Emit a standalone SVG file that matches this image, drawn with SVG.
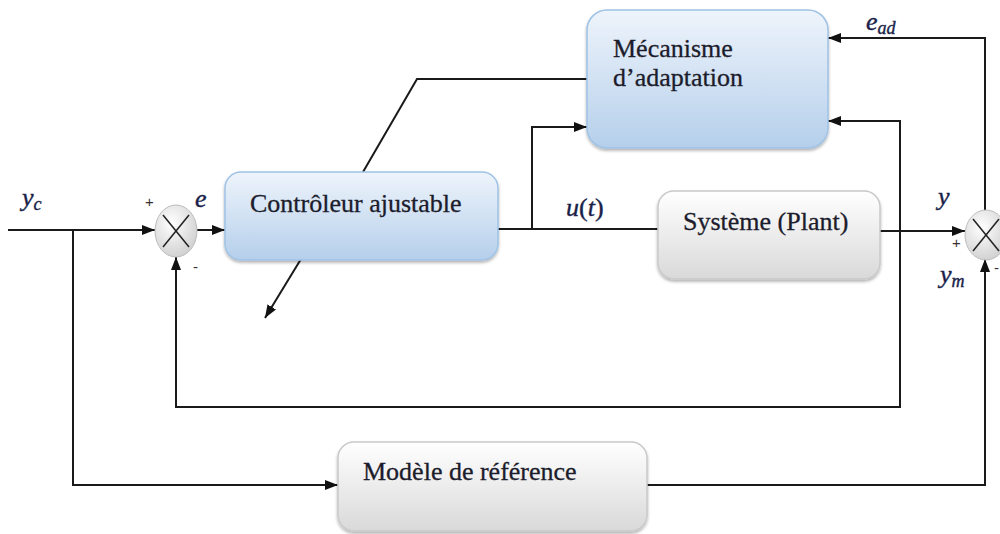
<svg xmlns="http://www.w3.org/2000/svg" width="1000" height="534" viewBox="0 0 1000 534">
<defs>
  <linearGradient id="gBlue" x1="0" y1="0" x2="0" y2="1">
    <stop offset="0" stop-color="#eef4fb"/>
    <stop offset="1" stop-color="#b5cfeb"/>
  </linearGradient>
  <linearGradient id="gGray" x1="0" y1="0" x2="0" y2="1">
    <stop offset="0" stop-color="#ffffff"/>
    <stop offset="1" stop-color="#d9d9d9"/>
  </linearGradient>
  <radialGradient id="gSum" cx="0.4" cy="0.35" r="0.7">
    <stop offset="0" stop-color="#ffffff"/>
    <stop offset="1" stop-color="#cfcfcf"/>
  </radialGradient>
  <filter id="shadow" x="-10%" y="-10%" width="120%" height="130%">
    <feDropShadow dx="0" dy="2" stdDeviation="1.5" flood-color="#000" flood-opacity="0.3"/>
  </filter>
  <marker id="arr" viewBox="0 0 13 10" refX="13" refY="5" markerWidth="13" markerHeight="10" markerUnits="userSpaceOnUse" orient="auto">
    <path d="M0,0 L13,5 L0,10 Z" fill="#111"/>
  </marker>
  <style>
    .blue { fill: url(#gBlue); stroke: #9fc2e5; stroke-width: 1.5; filter: url(#shadow); }
    .gray { fill: url(#gGray); stroke: #c9c9c9; stroke-width: 1.5; filter: url(#shadow); }
    .lbl { font-family: "Liberation Serif", "Times New Roman", serif; font-size: 26px; fill: #1c1c2c; stroke: #1c1c2c; stroke-width: 0.3; }
    .math { font-family: "Liberation Serif", "Times New Roman", serif; font-style: italic; font-size: 26px; fill: #1a1f4a; stroke: #1a1f4a; stroke-width: 0.4; }
    .up { font-style: normal; }
    .sub { font-size: 18px; }
    .sign { font-family: "Liberation Sans", Arial, sans-serif; font-size: 15px; fill: #3a3030; }
    .wire { fill: none; stroke: #1a1a1a; stroke-width: 2; }
    .sum { fill: url(#gSum); stroke: #bdbdbd; stroke-width: 1; }
    .x { stroke: #222; stroke-width: 1.5; }
  </style>
</defs>

<g id="connectors">
  <path class="wire" d="M8,230 L155,230" marker-end="url(#arr)"/>
  <path class="wire" d="M73,230 L73,485 L338,485" marker-end="url(#arr)"/>
  <path class="wire" d="M197,230 L225,230" marker-end="url(#arr)"/>
  <path class="wire" d="M498,229 L658,229"/>
  <path class="wire" d="M532,229 L532,127 L587,127" marker-end="url(#arr)"/>
  <path class="wire" d="M587,79 L417,79 L363,172"/>
  <path class="wire" d="M301,259 L265,318" marker-end="url(#arr)"/>
  <path class="wire" d="M880,231 L965,231" marker-end="url(#arr)"/>
  <path class="wire" d="M900,231 L900,121 L828,121" marker-end="url(#arr)"/>
  <path class="wire" d="M900,231 L900,407 L176,407 L176,257" marker-end="url(#arr)"/>
  <path class="wire" d="M985,211 L985,38 L828,38" marker-end="url(#arr)"/>
  <path class="wire" d="M647,485 L985,485 L985,259" marker-end="url(#arr)"/>
</g>

<g id="sum-left">
  <ellipse class="sum" cx="176" cy="231" rx="21" ry="26"/>
  <line class="x" x1="163" y1="215" x2="189" y2="247"/>
  <line class="x" x1="189" y1="215" x2="163" y2="247"/>
</g>

<g id="sum-right">
  <ellipse class="sum" cx="986" cy="235" rx="21" ry="25"/>
  <line class="x" x1="973" y1="219" x2="999" y2="251"/>
  <line class="x" x1="999" y1="219" x2="973" y2="251"/>
</g>

<g id="controleur">
  <rect class="blue" x="225" y="172" width="273" height="88" rx="16"/>
  <text class="lbl" x="250" y="212">Contrôleur ajustable</text>
</g>

<g id="mecanisme">
  <rect class="blue" x="587" y="10" width="241" height="138" rx="20"/>
  <text class="lbl" x="613" y="57">Mécanisme</text>
  <text class="lbl" x="613" y="86">d’adaptation</text>
</g>

<g id="systeme">
  <rect class="gray" x="658" y="191" width="222" height="88" rx="16"/>
  <text class="lbl" x="683" y="230">Système (Plant)</text>
</g>

<g id="modele">
  <rect class="gray" x="338" y="442" width="309" height="89" rx="16"/>
  <text class="lbl" x="363" y="480">Modèle de référence</text>
</g>

<g id="labels">
  <text class="math" x="22" y="206">y<tspan class="sub" dy="4">c</tspan></text>
  <text class="math" x="195" y="207">e</text>
  <text class="math" x="566" y="216">u<tspan class="up">(</tspan>t<tspan class="up">)</tspan></text>
  <text class="math" x="866" y="30">e<tspan class="sub" dy="4">ad</tspan></text>
  <text class="math" x="938" y="205">y</text>
  <text class="math" x="940" y="283">y<tspan class="sub" dy="4">m</tspan></text>
  <text class="sign" x="145" y="207">+</text>
  <text class="sign" x="193" y="272">-</text>
  <text class="sign" x="952" y="248">+</text>
  <text class="sign" x="994" y="273">-</text>
</g>
</svg>
